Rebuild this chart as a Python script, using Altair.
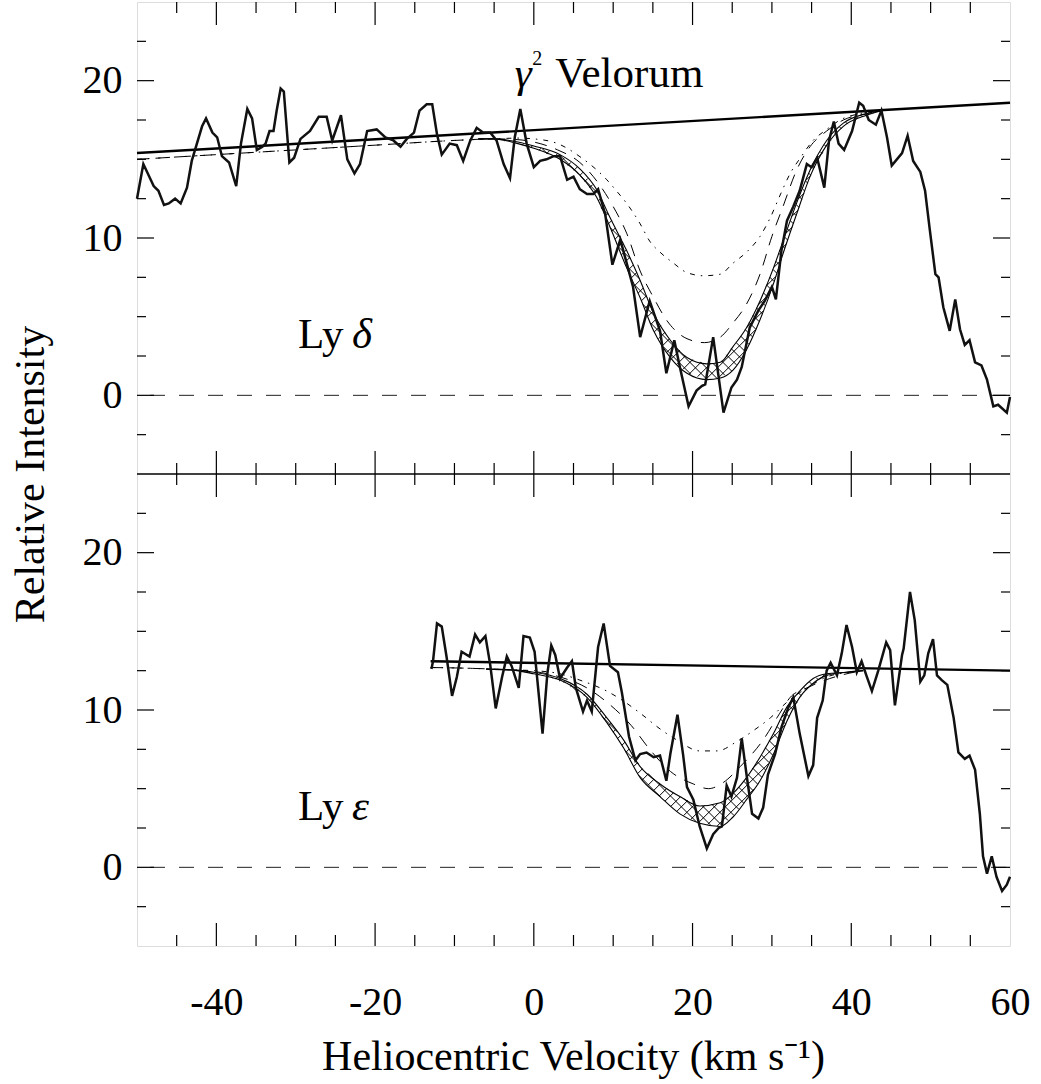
import altair as alt
import numpy as np
import pandas as pd

# ---------------- data ----------------
# Ly delta (top panel) spectrum
top_v = [-50.0, -49.2, -47.9, -47.3, -46.6, -46.0, -45.2, -44.5, -43.7, -43.1, -41.8, -41.3,
         -40.5, -39.9, -39.3, -38.4, -37.5, -36.9, -36.1, -35.5, -34.9, -34.2, -33.8, -33.3,
         -32.8, -32.4, -31.9, -31.5, -30.8, -30.2, -29.4, -28.2, -27.1, -26.1, -25.4, -24.3,
         -23.5, -22.6, -21.9, -21.0, -19.8, -18.7, -17.7, -16.8, -16.0, -15.1, -14.4, -13.5,
         -12.8, -12.2, -11.6, -10.6, -9.7, -8.9, -8.0, -7.2, -6.4, -5.5, -4.7, -3.8, -3.0,
         -2.4, -1.7, -0.9, 0.0, 0.8, 1.6, 2.5, 3.3, 4.2, 5.0, 5.8, 6.7, 7.5, 8.1, 9.0, 9.9,
         10.9, 11.7, 12.5, 13.4, 14.6, 15.9, 16.7, 17.7, 18.4, 19.5, 20.5, 21.2, 21.6, 22.6,
         23.9, 24.9, 25.6, 26.2, 27.2, 28.3, 29.1, 30.0, 30.5, 31.2, 31.9, 32.7, 33.5, 34.4,
         35.0, 35.7, 36.6, 37.2, 37.8, 38.4, 39.1, 40.1, 41.0, 41.5, 42.2, 43.1, 43.8, 44.5,
         45.1, 46.4, 47.1, 47.8, 48.7, 49.3, 49.9, 50.6, 51.0, 51.6, 52.4, 53.1, 53.7, 54.3,
         54.9, 55.6, 56.4, 57.1, 57.9, 58.5, 59.6, 60.0]
top_i = [12.5, 14.7, 13.3, 13.0, 12.1, 12.2, 12.5, 12.2, 13.2, 14.9, 17.1, 17.6,
         16.7, 16.4, 15.2, 14.8, 13.3, 16.0, 18.2, 17.6, 15.6, 15.8, 16.0, 16.8,
         16.8, 18.1, 19.5, 19.3, 14.8, 15.1, 16.3, 16.8, 17.7, 17.7, 16.2, 17.8,
         15.0, 14.1, 14.7, 16.8, 16.9, 16.4, 16.2, 15.8, 16.3, 16.7, 18.1, 18.5,
         18.5, 16.6, 15.3, 16.0, 15.9, 14.9, 16.2, 17.0, 16.7, 16.7, 16.2, 14.7, 13.8,
         16.4, 18.2, 16.0, 14.5, 14.9, 15.0, 15.2, 15.2, 13.7, 13.9, 13.1, 12.8, 12.8, 13.1, 11.5, 8.3,
         9.9, 8.4, 6.9, 3.7, 6.0, 4.1, 1.4, 3.5, 1.8, -0.7, 0.3, 0.6, 0.7, 3.7,
         -1.1, 0.5, 1.0, 1.8, 4.3, 5.4, 6.0, 6.9, 6.1, 9.2, 11.1, 12.0, 13.0, 14.7,
         14.5, 15.1, 13.2, 16.2, 17.4, 16.0, 15.6, 16.8, 18.6, 18.4, 17.5, 17.2, 18.1, 16.4,
         14.6, 15.4, 16.5, 14.9, 14.2, 13.0, 10.5, 7.7, 7.5, 5.6, 4.1, 6.1, 4.2, 3.2,
         3.5, 2.1, 1.9, 1.0, -0.7, -0.6, -1.1, -0.1]

# Ly epsilon (bottom panel) spectrum
bot_v = [-12.9, -12.7, -12.2, -11.6, -11.0, -10.3, -9.7, -9.1, -8.1, -7.4, -6.8, -6.1, -5.5,
         -4.8, -4.0, -3.4, -2.8, -1.9, -1.3, -0.5, 0.1, 1.1, 1.7, 2.2, 2.7, 3.3, 4.2, 4.8,
         5.3, 6.2, 6.7, 7.3, 8.1, 8.8, 9.6, 10.6, 11.1, 12.0, 12.8, 13.4, 14.2, 15.1, 15.9,
         16.7, 17.2, 18.1, 18.8, 19.3, 20.1, 20.9, 21.8, 22.6, 23.3, 23.7, 24.3, 24.9, 25.6,
         26.2, 26.8, 27.5, 28.3, 28.9, 29.5, 30.4, 31.2, 32.1, 32.7, 33.5, 34.6, 35.2, 35.7,
         36.4, 36.9, 37.4, 38.2, 38.8, 39.4, 40.1, 40.7, 41.3, 41.9, 42.6, 43.4, 44.4, 44.9,
         45.5, 46.4, 46.6, 47.4, 48.0, 48.7, 49.2, 49.7, 50.3, 50.8, 51.4, 52.1, 52.9, 53.5,
         54.3, 54.9, 55.6, 56.2, 56.6, 57.1, 57.7, 58.3, 59.0, 59.6, 60.0]
bot_i = [12.6, 13.1, 15.5, 15.3, 13.4, 10.9, 12.1, 13.7, 13.4, 14.8, 14.3, 14.7, 12.9,
         10.1, 12.1, 13.4, 12.8, 11.4, 14.7, 14.6, 13.7, 8.5, 12.3, 14.1, 13.5, 12.0, 12.7, 13.1,
         11.4, 9.9, 10.6, 9.9, 14.0, 15.5, 12.8, 12.4, 11.1, 8.3, 6.8, 7.2, 7.3, 7.0, 7.1,
         5.5, 7.2, 9.7, 7.2, 5.1, 4.3, 2.6, 1.2, 2.1, 2.5, 2.6, 5.2, 4.5, 5.7,
         8.2, 5.9, 3.4, 3.1, 3.8, 5.9, 7.2, 8.9, 10.2, 10.8, 8.5, 5.8, 6.5, 9.5,
         10.6, 12.5, 13.0, 12.2, 13.6, 15.4, 14.0, 12.4, 13.1, 12.2, 11.2, 12.5, 14.3, 13.8,
         10.3, 13.5, 13.9, 17.5, 15.7, 11.8, 12.2, 13.6, 14.5, 12.2, 11.9, 11.6, 9.5, 7.3,
         6.9, 7.1, 6.2, 3.4, 0.7, -0.4, 0.7, -0.6, -1.5, -1.1, -0.6]

# continua
top_cont_v = [-50, 60]
top_cont_i = [15.4, 18.6]
bot_cont_v = [-13, 60]
bot_cont_i = [13.1, 12.5]

# top panel model profiles
top_hi_v = [-7, -5, -2, 0, 3.3, 5.8, 7.9, 9.6, 11.7, 13.4, 15.1, 17.2, 19.3,
            21.8, 23.5, 25.1, 26.8, 28.5, 30.2, 31.4, 33.1, 34.8, 36.9, 39.0, 41.9, 44.0]
top_hi_i = [16.3, 16.3, 16.1, 15.85, 15.3, 14.4, 13.1, 11.3, 9.2, 7.3, 5.2,
            3.5, 2.4, 2.0, 2.1, 3.1, 4.3, 6.0, 8.1, 9.8, 12.2, 14.3, 16.2, 17.3, 17.9, 18.1]
top_lo_v = top_hi_v
top_lo_i = [16.3, 16.3, 16.0, 15.7, 15.0, 14.0, 12.6, 10.7, 8.1, 6.2, 4.1,
            2.4, 1.4, 1.0, 1.1, 1.6, 2.9, 4.8, 7.1, 9.0, 11.5, 13.9, 15.9, 17.1, 17.8, 18.1]
top_dash_v = [-50, -40, -30, -20, -10, -5, -2, 0, 3, 5.8, 7.5, 10.0, 11.7, 13.4, 15.1, 16.7, 19.3,
              21.5, 23.5, 25.1, 26.8, 28.5, 30.0, 31.4, 33.1, 34.8, 36.9, 39.0, 41.9, 44.0]
top_dash_i = [15.0, 15.3, 15.6, 15.9, 16.2, 16.3, 16.25, 16.1, 15.6, 14.8, 13.9, 12.0, 10.3, 7.9,
              6.2, 4.8, 3.6, 3.35, 3.7, 4.6, 5.8, 7.7, 10.1, 12.0, 14.3, 15.8, 16.8, 17.5, 17.9, 18.1]
top_dot_v = [-50, -40, -30, -20, -10, -5, -2, 0, 3, 6, 9.2, 10.4, 11.7, 13.4, 14.6, 15.9, 17.6,
             19.3, 21.4, 23.5, 25.1, 26.8, 28.5, 29.8, 31.1, 32.3, 33.6, 35.2, 36.9, 38.6, 41.0, 44.0]
top_dot_i = [15.0, 15.3, 15.6, 15.9, 16.2, 16.3, 16.35, 16.3, 16.0, 15.1, 13.7, 13.0, 12.2, 10.9,
             9.8, 9.1, 8.4, 7.8, 7.6, 7.7, 8.4, 9.1, 10.1, 11.3, 12.8, 14.1, 15.1, 16.2, 16.9,
             17.5, 17.9, 18.1]

# bottom panel model profiles
bot_hi_v = [-6, -3, 0, 3.3, 6.7, 9.2, 11.3, 13.4, 15.9, 18.4, 20.9, 23.5, 25.1, 26.8, 28.5,
            30.2, 31.9, 33.5, 35.2, 36.9, 39.4, 41.5]
bot_hi_i = [12.6, 12.55, 12.4, 12.0, 11.0, 9.5, 8.1, 6.4, 5.3, 4.5, 3.9, 4.1, 4.7, 5.7, 7.0,
            8.5, 10.2, 11.2, 12.0, 12.3, 12.4, 12.5]
bot_lo_v = bot_hi_v
bot_lo_i = [12.6, 12.55, 12.3, 11.9, 10.8, 9.2, 7.6, 5.7, 4.5, 3.4, 2.8, 2.6, 3.2, 4.3, 5.5,
            7.2, 9.3, 10.8, 11.7, 12.2, 12.4, 12.5]
bot_dash_v = [-13, -8, -3, 0, 3.3, 6.7, 9.2, 12.3, 14.6, 17.2, 20.1, 22.0, 23.9, 26.0, 28.9, 31.0,
              32.3, 34.4, 38.6, 41.5]
bot_dash_i = [12.7, 12.65, 12.55, 12.45, 12.1, 11.4, 10.5, 9.0, 7.5, 6.1, 5.3, 5.0, 5.4, 6.4, 8.1,
              9.8, 10.8, 11.4, 12.2, 12.5]
bot_dot_v = [-13, -8, -3, 0, 3.3, 5.8, 9.2, 10.9, 13.4, 15.9, 18.0, 20.9, 23.1, 25.6, 27.7, 29.8,
             31.9, 34.4, 36.9, 39.8, 41.5]
bot_dot_i = [12.7, 12.65, 12.55, 12.5, 12.3, 11.9, 11.2, 10.7, 9.8, 8.8, 8.1, 7.4, 7.4, 8.0, 8.7,
             9.5, 10.5, 11.4, 12.1, 12.4, 12.5]

# axis ticks / labels
x_labels = [-40, -20, 0, 20, 40, 60]
x_major = [-40, -20, 0, 20, 40]
x_minor = [-45, -35, -30, -25, -15, -10, -5, 5, 10, 15, 25, 30, 35, 45, 50, 55]
y_major = [0, 10, 20]
y_minor = [-2.5, 2.5, 5, 7.5, 12.5, 15, 17.5, 22.5]

# annotations
ann_text = ["Velorum", "Ly", "Ly"]
ann_v = [2.7, -29.7, -29.7]
ann_i = [19.6, 3.0, 3.0]
ann_panel = ["top", "top", "bottom"]
ital_text = ["\u03b3", "\u03b4", "\u03b5"]
ital_v = [-2.4, -22.9, -22.9]
ital_i = [19.6, 3.0, 3.0]
ital_panel = ["top", "top", "bottom"]
sup_text = ["2"]
sup_v = [-0.2]
sup_i = [21.0]
sup_panel = ["top"]

# ---------------- layout ----------------
W, H = 873, 944
X_DOM = [-50, 60]
Y_DOM = [-5, 55]
OFF = {"top": 30, "bottom": 0}
FONT = "Liberation Serif"

xs = alt.Scale(domain=X_DOM, nice=False, zero=False)
ys = alt.Scale(domain=Y_DOM, nice=False, zero=False)

x_axis = alt.Axis(values=x_labels, labelExpr="'' + datum.value",
                  title="Heliocentric Velocity (km s\u207b\u00b9)", ticks=False,
                  tickSize=0, domain=False, grid=False, labelFont=FONT, labelFontSize=40,
                  labelColor="black", labelPadding=36, labelFlush=False,
                  labelOverlap=False, titleFont=FONT, titleFontSize=42,
                  titleFontWeight="normal", titleColor="black", titleX=436, titleY=110,
                  titleBaseline="middle", titleAlign="center")
y_axis = alt.Axis(values=[0, 10, 20, 30, 40, 50],
                  labelExpr="datum.value >= 30 ? '' + (datum.value - 30) : '' + datum.value",
                  title="Relative Intensity", ticks=False, tickSize=0, domain=False,
                  grid=False, labelFont=FONT, labelFontSize=40, labelColor="black",
                  labelPadding=15, labelOverlap=False, titleFont=FONT, titleFontSize=42,
                  titleFontWeight="normal", titleColor="black", titleX=-107, titleY=472,
                  titleAngle=270, titleBaseline="middle", titleAlign="center")


def X(f):
    return alt.X(f, type="quantitative", scale=xs, axis=x_axis)


def Y(f):
    return alt.Y(f, type="quantitative", scale=ys, axis=y_axis)


def lines(pairs):
    frames = []
    for key, (v, i, panel) in pairs.items():
        frames.append(pd.DataFrame({"v": v, "I": np.asarray(i, float) + OFF[panel], "key": key}))
    return pd.concat(frames, ignore_index=True)


spec_df = lines({"t": (top_v, top_i, "top"), "b": (bot_v, bot_i, "bottom")})
cont_df = lines({"t": (top_cont_v, top_cont_i, "top"), "b": (bot_cont_v, bot_cont_i, "bottom")})
solid_df = lines({"th": (top_hi_v, top_hi_i, "top"), "tl": (top_lo_v, top_lo_i, "top"),
                  "bh": (bot_hi_v, bot_hi_i, "bottom"), "bl": (bot_lo_v, bot_lo_i, "bottom")})
dash_df = lines({"t": (top_dash_v, top_dash_i, "top"), "b": (bot_dash_v, bot_dash_i, "bottom")})
dot_df = lines({"t": (top_dot_v, top_dot_i, "top"), "b": (bot_dot_v, bot_dot_i, "bottom")})

# cross-hatching between the two solid profiles (45 degree lines in screen space)
sx = W / (X_DOM[1] - X_DOM[0])
sy = H / (Y_DOM[1] - Y_DOM[0])
slope = sx / sy
dk = 11.0 / sx


def hatch(vu, iu, vl, il, off):
    grid = np.arange(max(min(vu), min(vl)), min(max(vu), max(vl)), 0.003)
    U = np.interp(grid, vu, iu)
    L = np.interp(grid, vl, il)
    span = 25 / slope
    ks = np.arange(grid[0] - span, grid[-1] + span, dk)
    segs = []
    for sgn in (1, -1):
        for k in ks:
            yy = sgn * slope * (grid - k)
            inside = (yy >= L) & (yy <= U)
            if not inside.any():
                continue
            d = np.diff(np.concatenate([[0], inside.astype(int), [0]]))
            starts = np.where(d == 1)[0]
            ends = np.where(d == -1)[0] - 1
            for s, e in zip(starts, ends):
                if e > s:
                    segs.append((grid[s], yy[s] + off, grid[e], yy[e] + off))
    return segs


segs = hatch(top_hi_v, top_hi_i, top_lo_v, top_lo_i, OFF["top"]) + \
    hatch(bot_hi_v, bot_hi_i, bot_lo_v, bot_lo_i, OFF["bottom"])
hatch_df = pd.DataFrame(segs, columns=["x1", "y1", "x2", "y2"])

layers = []

zero_df = pd.DataFrame({"y": [0 + OFF["bottom"], 0 + OFF["top"]]})
layers.append(alt.Chart(zero_df).mark_rule(color="#222", strokeWidth=1, strokeDash=[15, 14]).encode(
    y=Y("y"), x=alt.value(13), x2=alt.value(W)))

layers.append(alt.Chart(hatch_df).mark_rule(color="black", strokeWidth=1.0).encode(
    x=X("x1"), y=Y("y1"), x2="x2:Q", y2="y2:Q"))

layers.append(alt.Chart(solid_df).mark_line(color="black", strokeWidth=1.1, interpolate="monotone").encode(
    x=X("v"), y=Y("I"), detail="key:N"))
layers.append(alt.Chart(dash_df).mark_line(color="black", strokeWidth=1, strokeDash=[12, 9],
                                           interpolate="monotone").encode(
    x=X("v"), y=Y("I"), detail="key:N"))
layers.append(alt.Chart(dot_df).mark_line(color="black", strokeWidth=1, strokeDash=[5, 6, 1.5, 6],
                                          interpolate="monotone").encode(
    x=X("v"), y=Y("I"), detail="key:N"))
layers.append(alt.Chart(cont_df).mark_line(color="black", strokeWidth=2.4).encode(
    x=X("v"), y=Y("I"), detail="key:N"))
layers.append(alt.Chart(spec_df).mark_line(color="#111", strokeWidth=2.5).encode(
    x=X("v"), y=Y("I"), detail="key:N"))

# panel divider
layers.append(alt.Chart(pd.DataFrame({"y": [25]})).mark_rule(color="black", strokeWidth=1.5).encode(
    y=Y("y"), x=alt.value(0), x2=alt.value(W)))

# inward tick marks
MAJ_X, MIN_X, MAJ_Y, MIN_Y = 23, 11, 17, 9
for vals, ln in ((x_major, MAJ_X), (x_minor, MIN_X)):
    tdf = pd.DataFrame({"v": vals})
    for y0, y1 in ((H, H - ln), (0, ln), (H / 2 - ln, H / 2 + ln)):
        layers.append(alt.Chart(tdf).mark_rule(color="black", strokeWidth=1.2).encode(
            x=X("v"), y=alt.value(y0), y2=alt.value(y1)))
for vals, ln in ((y_major, MAJ_Y), (y_minor, MIN_Y)):
    tdf = pd.DataFrame({"y": list(np.array(vals) + OFF["bottom"]) + list(np.array(vals) + OFF["top"])})
    for x0, x1 in ((0, ln), (W, W - ln)):
        layers.append(alt.Chart(tdf).mark_rule(color="black", strokeWidth=1.2).encode(
            y=Y("y"), x=alt.value(x0), x2=alt.value(x1)))


def ann(text, v, i, panel):
    return pd.DataFrame({"t": text, "v": v, "I": [a + OFF[p] for a, p in zip(i, panel)]})


layers.append(alt.Chart(ann(ann_text, ann_v, ann_i, ann_panel)).mark_text(
    font=FONT, fontSize=43, align="left", baseline="alphabetic", color="black").encode(
    x=X("v"), y=Y("I"), text="t:N"))
layers.append(alt.Chart(ann(ital_text, ital_v, ital_i, ital_panel)).mark_text(
    font=FONT, fontSize=43, fontStyle="italic", align="left", baseline="alphabetic",
    color="black").encode(x=X("v"), y=Y("I"), text="t:N"))
layers.append(alt.Chart(ann(sup_text, sup_v, sup_i, sup_panel)).mark_text(
    font=FONT, fontSize=20, align="left", baseline="alphabetic", color="black").encode(
    x=X("v"), y=Y("I"), text="t:N"))

chart = alt.layer(*layers).properties(
    width=W, height=H,
    autosize=alt.AutoSizeParams(type="none"),
    padding={"left": 137, "top": 2, "right": 31, "bottom": 138},
).configure_view(stroke="black", strokeWidth=1.5).configure(background="white")

chart.save("out.html", embed_options={"renderer": "svg", "actions": False})
